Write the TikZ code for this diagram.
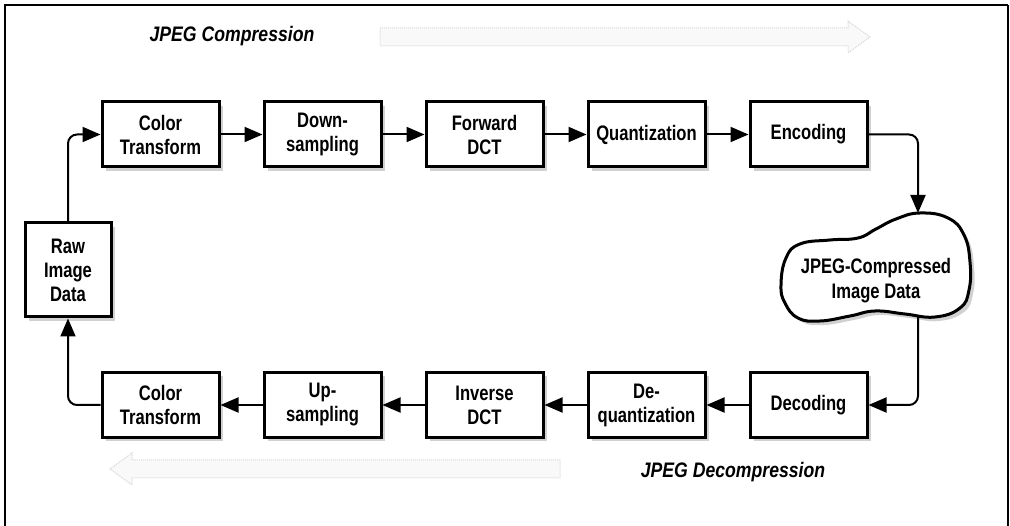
\documentclass[tikz,border=0pt]{standalone}
\usepackage{fontspec}
\setmainfont{Liberation Sans}[FakeStretch=0.86]
\newfontfamily\boxfont{Liberation Sans}[FakeStretch=0.79, UprightFeatures={FakeBold=0.6}]
\newfontfamily\headfont{Liberation Sans}[FakeStretch=0.84]
\usetikzlibrary{arrows.meta,shadows}

\begin{document}
\begin{tikzpicture}[x=1pt,y=-1pt,
  stage/.style={draw, line width=3pt, fill=white, minimum width=117pt,
    minimum height=65pt, inner sep=0pt, align=center,
    font=\boxfont\bfseries\fontsize{21}{24}\selectfont,
    drop shadow={shadow xshift=4pt, shadow yshift=-4pt, fill=black!18, opacity=1}},
  flow/.style={line width=2pt, -{Triangle[length=18pt,width=15pt]}, rounded corners=9pt},
  heading/.style={font=\headfont\bfseries\itshape\fontsize{21}{24}\selectfont},
  faint/.style={draw=black!16, densely dotted, fill=black!2.5, line width=1pt}]

\useasboundingbox (0,0) rectangle (1010,526);

% outer frame (open at the bottom)
\draw[line width=2.5pt] (5,526) -- (5,5) -- (1008,5);
\draw[line width=1.5pt] (1008,5) -- (1008,526);

% faint direction arrows
\path[faint] (380,28) -- (848,28) -- (848,21) -- (870,37) -- (848,53) -- (848,46) -- (380,46) -- cycle;
\path[faint] (560,460) -- (132,460) -- (132,453) -- (110,469) -- (132,485) -- (132,478) -- (560,478) -- cycle;

% section headings
\node[heading] (hcomp) at (232,36) {JPEG Compression};
\node[heading] (hdecomp) at (733,472) {JPEG Decompression};

% compression stages
\node[stage] (ct1) at (160.5,134.5) {Color\\Transform};
\node[stage] (ds)  at (322.5,134.5) {Down-\\sampling};
\node[stage] (fd)  at (484.5,134.5) {Forward\\DCT};
\node[stage] (qu)  at (646.5,134.5) {Quantization};
\node[stage] (enc) at (808.5,134.5) {Encoding};

% decompression stages
\node[stage] (ct2) at (160.5,405) {Color\\Transform};
\node[stage] (us)  at (322.5,405) {Up-\\sampling};
\node[stage] (id)  at (484.5,405) {Inverse\\DCT};
\node[stage] (dq)  at (646.5,405) {De-\\quantization};
\node[stage] (dec) at (808.5,405) {Decoding};

% raw data
\node[stage, minimum width=86pt, minimum height=94pt] (raw) at (68,270) {Raw\\Image\\Data};

% compressed data cloud
\fill[black!18, shift={(4,4)}] plot[smooth cycle, tension=0.75] coordinates {
  (781,285) (786,258) (800,244) (830,240) (858,238) (876,229) (896,219) (920,213)
  (948,218) (964,235) (970,262) (969,290) (960,308) (935,317) (905,314) (875,311)
  (850,316) (820,321) (798,318) (785,303)};
\draw[line width=3pt, fill=white] plot[smooth cycle, tension=0.75] coordinates {
  (781,285) (786,258) (800,244) (830,240) (858,238) (876,229) (896,219) (920,213)
  (948,218) (964,235) (970,262) (969,290) (960,308) (935,317) (905,314) (875,311)
  (850,316) (820,321) (798,318) (785,303)};
\node[align=center, font=\boxfont\bfseries\fontsize{21}{25}\selectfont] (cdata) at (876,281) {JPEG-Compressed\\Image Data};
\coordinate (ctop) at (918,213);
\coordinate (cbot) at (918,316);

% connectors
\draw[flow] (raw.north) |- (ct1.west);
\draw[flow] (ct1.east) -- (ds.west);
\draw[flow] (ds.east) -- (fd.west);
\draw[flow] (fd.east) -- (qu.west);
\draw[flow] (qu.east) -- (enc.west);
\draw[flow] (enc.east) -| (ctop);
\draw[flow] (cbot) |- (dec.east);
\draw[flow] (dec.west) -- (dq.east);
\draw[flow] (dq.west) -- (id.east);
\draw[flow] (id.west) -- (us.east);
\draw[flow] (us.west) -- (ct2.east);
\draw[flow] (ct2.west) -| (raw.south);
\end{tikzpicture}
\end{document}
